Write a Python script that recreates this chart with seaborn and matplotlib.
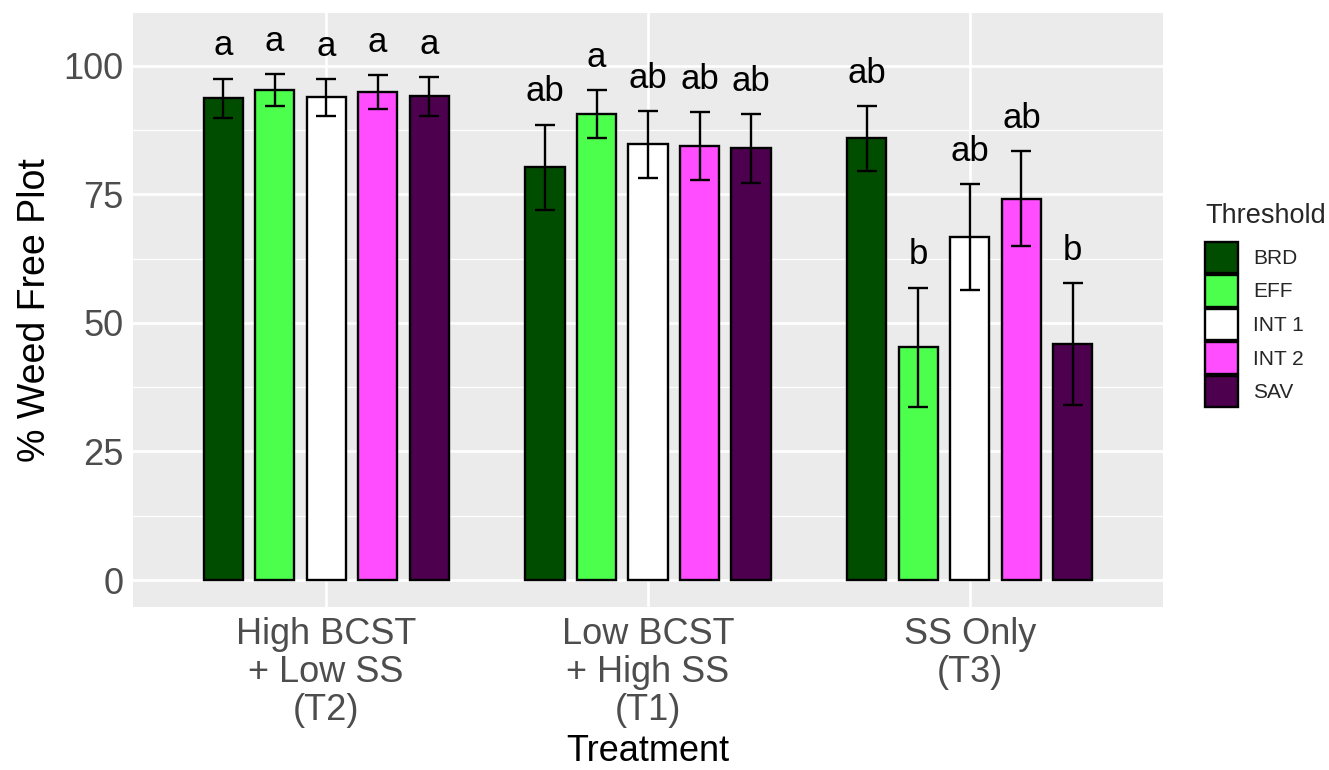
import numpy as np
import pandas as pd
import seaborn as sns
import matplotlib
matplotlib.use("Agg")
import matplotlib.pyplot as plt
from matplotlib.ticker import FixedLocator

# ---- data ----
treatments = ["High BCST\n+ Low SS\n(T2)", "Low BCST\n+ High SS\n(T1)", "SS Only\n(T3)"]
thresholds = ["BRD", "EFF", "INT 1", "INT 2", "SAV"]
colors = ["#004D00", "#4DFF4D", "#FFFFFF", "#FF4DFF", "#4D004D"]

mean_t2 = [93.7, 95.3, 93.9, 94.9, 94.1]
mean_t1 = [80.3, 90.65, 84.75, 84.4, 83.95]
mean_t3 = [85.9, 45.25, 66.75, 74.15, 45.9]

se_t2 = [3.85, 3.05, 3.55, 3.25, 3.8]
se_t1 = [8.3, 4.65, 6.55, 6.6, 6.65]
se_t3 = [6.3, 11.65, 10.35, 9.25, 11.9]

letters_t2 = ["a", "a", "a", "a", "a"]
letters_t1 = ["ab", "a", "ab", "ab", "ab"]
letters_t3 = ["ab", "b", "ab", "ab", "b"]

rows = []
for trt, means, ses, lets in zip(treatments,
                                 [mean_t2, mean_t1, mean_t3],
                                 [se_t2, se_t1, se_t3],
                                 [letters_t2, letters_t1, letters_t3]):
    for thr, m, s, l in zip(thresholds, means, ses, lets):
        rows.append({"Treatment": trt, "Threshold": thr, "Mean": m, "SE": s, "Letter": l})
df = pd.DataFrame(rows)

# ---- style ----
sns.set_theme(style="darkgrid", rc={"axes.facecolor": "#EBEBEB", "figure.facecolor": "white"})
plt.rcParams['font.family'] = ['Liberation Sans', 'DejaVu Sans']

fig = plt.figure(figsize=(13.29, 7.70), dpi=100)
ax = fig.add_axes([133/1329, 1-607/770, 1030/1329, 594/770])

sns.barplot(data=df, x="Treatment", y="Mean", hue="Threshold",
            order=treatments, hue_order=thresholds,
            palette=dict(zip(thresholds, colors)), saturation=1,
            width=0.8, gap=0.24, edgecolor="black", linewidth=1.7,
            errorbar=None, ax=ax)

# error bars + letters
for hi, (thr, cont) in enumerate(zip(thresholds, ax.containers)):
    for ti, bar in enumerate(cont):
        row = df[(df.Treatment == treatments[ti]) & (df.Threshold == thr)].iloc[0]
        x = bar.get_x() + bar.get_width() / 2
        ax.errorbar([x], [row.Mean], yerr=[row.SE], fmt="none", ecolor="black",
                    elinewidth=1.7, capsize=7.5, capthick=1.7, zorder=5)
        ax.text(x, row.Mean + row.SE + 4.5, row.Letter, ha="center", va="baseline",
                fontsize=25, color="black", zorder=6)

ax.set_xlim(-0.6, 2.6)
ax.set_ylim(-5.25, 110.3)
ax.yaxis.set_major_locator(FixedLocator([0, 25, 50, 75, 100]))
ax.yaxis.set_minor_locator(FixedLocator([12.5, 37.5, 62.5, 87.5]))

ax.set_axisbelow(True)
ax.grid(which="major", color="white", lw=1.9)
ax.grid(which="minor", axis="y", color="white", lw=0.9)
for sp in ax.spines.values():
    sp.set_visible(False)

ax.tick_params(axis="both", which="major", length=5, width=1.1, color="#333333",
               labelsize=26, labelcolor="#4D4D4D", pad=2)
ax.tick_params(axis="both", which="minor", length=0)
for lab in ax.get_xticklabels():
    lab.set_linespacing(1.12)

ax.set_xlabel("Treatment", fontsize=26, color="black")
ax.set_ylabel("% Weed Free Plot", fontsize=27, color="black")
ax.xaxis.set_label_coords(0.5, -0.213)
ax.xaxis.label.set_va("top")
ax.yaxis.set_label_coords(-0.078, 0.5)

handles, labels = ax.get_legend_handles_labels()
if ax.get_legend() is not None:
    ax.get_legend().remove()
leg = fig.legend(handles, labels, title="Threshold", loc="upper left",
                 bbox_to_anchor=(1205/1329, 1-203/770), frameon=False,
                 fontsize=15, title_fontsize=19.5, handlelength=1.6, handleheight=1.95,
                 labelspacing=0.1, handletextpad=0.7, borderpad=0, borderaxespad=0,
                 alignment="left")
leg._legend_box.sep = 9

fig.savefig("out.png", dpi=100)
